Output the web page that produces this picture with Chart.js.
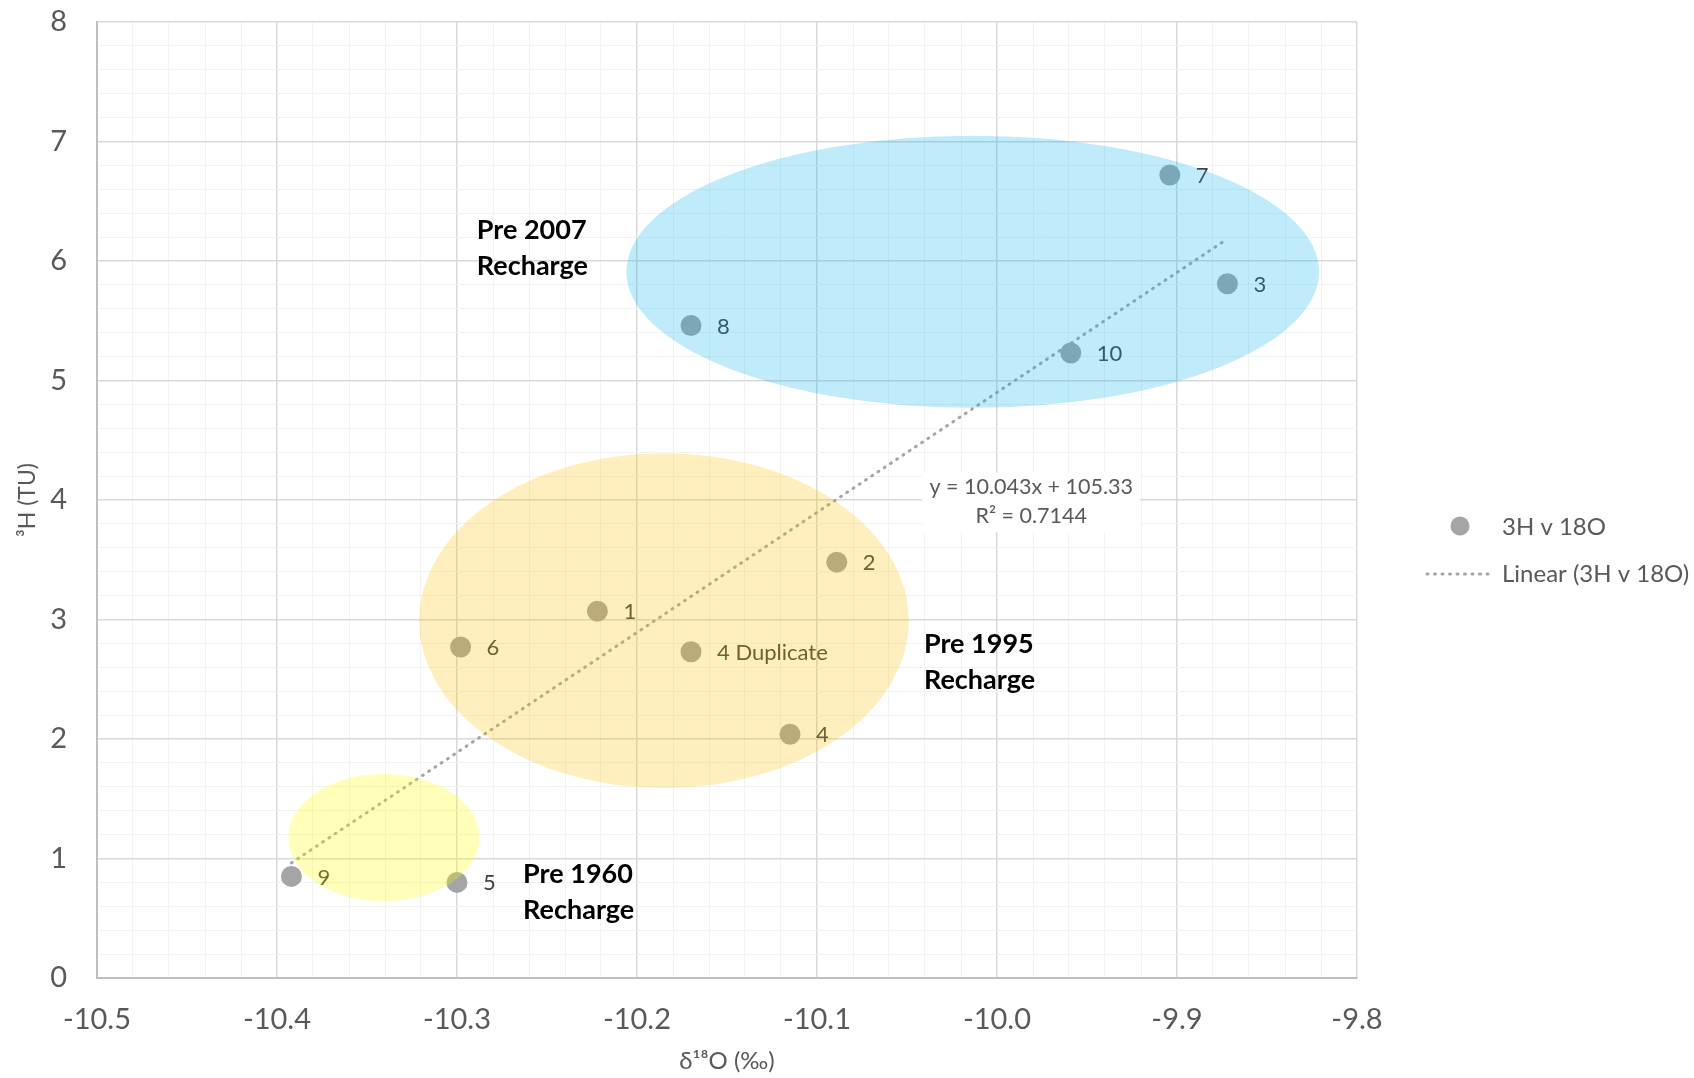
<!DOCTYPE html>
<html>
<head>
<meta charset="utf-8">
<script src="https://cdn.jsdelivr.net/npm/chart.js@4.4.1/dist/chart.umd.min.js"></script>
<style>
  html, body { margin: 0; padding: 0; background: #fff; }
  #wrap { width: 1694px; height: 1078px; }
</style>
</head>
<body>
<div id="wrap"><canvas id="isoChart" width="1694" height="1078"></canvas></div>
<script>
// sample data
const sampleLabels = ["9", "5", "6", "1", "4 Duplicate", "4", "2", "8", "10", "7", "3"];
const delta18O = [-10.392, -10.300, -10.298, -10.222, -10.170, -10.115, -10.089, -10.170, -9.959, -9.904, -9.872];
const tritiumTU = [0.85, 0.80, 2.77, 3.07, 2.73, 2.04, 3.48, 5.46, 5.23, 6.72, 5.81];

const xRange = [-10.5, -9.8];
const yRange = [0, 8];

// Excel linear trendline
const trendSlope = 10.043;
const trendIntercept = 105.33;
const trendLabel = ["y = 10.043x + 105.33", "R\u00b2 = 0.7144"];

const zoneNames = [["Pre 2007", "Recharge"], ["Pre 1995", "Recharge"], ["Pre 1960", "Recharge"]];

const FONT = "Lato, 'Open Sans', sans-serif";

// recharge zones, in data units
const zones = [
  { cx: -10.0135, cy: 5.91, rx: 0.1924, ry: 1.139, color: "rgba(0,176,240,0.25)", text: { x: -10.289, y: 6.26 } },
  { cx: -10.185, cy: 2.99, rx: 0.136, ry: 1.401, color: "rgba(255,192,0,0.25)", text: { x: -10.0406, y: 2.795 } },
  { cx: -10.3406, cy: 1.175, rx: 0.0531, ry: 0.533, color: "rgba(255,255,0,0.27)", text: { x: -10.2633, y: 0.87 } }
];

const xMin = Math.min(...delta18O);
const xMax = Math.max(...delta18O);
const trendPoints = [xMin, xMax].map(x => ({ x: x, y: trendSlope * x + trendIntercept }));

const isMajor = (v, per) => Math.abs(Math.round(v * per) - v * per) < 1e-6;

const overlayPlugin = {
  id: "overlay",
  afterDatasetsDraw(chart) {
    const ctx = chart.ctx;
    const xs = chart.scales.x, ys = chart.scales.y;
    const meta = chart.getDatasetMeta(0);
    ctx.save();

    // point labels
    ctx.font = "22px " + FONT;
    ctx.fillStyle = "#404040";
    ctx.textAlign = "left";
    ctx.textBaseline = "middle";
    meta.data.forEach((pt, i) => {
      ctx.fillText(sampleLabels[i], pt.x + 26, pt.y + 1);
    });

    // zone ellipses sit on top, semi transparent
    zones.forEach(z => {
      const cx = xs.getPixelForValue(z.cx), cy = ys.getPixelForValue(z.cy);
      const rx = Math.abs(xs.getPixelForValue(z.cx + z.rx) - cx);
      const ry = Math.abs(ys.getPixelForValue(z.cy + z.ry) - cy);
      ctx.beginPath();
      ctx.ellipse(cx, cy, rx, ry, 0, 0, Math.PI * 2);
      ctx.fillStyle = z.color;
      ctx.fill();
    });

    // zone captions
    ctx.font = "bold 27px " + FONT;
    ctx.fillStyle = "#000";
    zones.forEach((z, i) => {
      const tx = xs.getPixelForValue(z.text.x), ty = ys.getPixelForValue(z.text.y);
      zoneNames[i].forEach((line, j) => ctx.fillText(line, tx, ty + j * 36));
    });

    // trendline equation box
    const bx = xs.getPixelForValue(-9.981), by = ys.getPixelForValue(3.98);
    ctx.fillStyle = "#fff";
    ctx.fillRect(bx - 109, by - 30, 218, 60);
    ctx.font = "21.5px " + FONT;
    ctx.fillStyle = "#595959";
    ctx.textAlign = "center";
    ctx.fillText(trendLabel[0], bx, by - 15);
    ctx.fillText(trendLabel[1], bx, by + 14);
    ctx.restore();
  },
  afterDraw(chart) {
    const ctx = chart.ctx;
    ctx.save();
    ctx.fillStyle = "#a5a5a5";
    ctx.beginPath();
    ctx.arc(1460, 526, 9.5, 0, Math.PI * 2);
    ctx.fill();
    ctx.strokeStyle = "#a5a5a5";
    ctx.lineWidth = 3;
    ctx.lineCap = "round";
    ctx.setLineDash([1, 6.5]);
    ctx.beginPath();
    ctx.moveTo(1427, 574);
    ctx.lineTo(1494, 574);
    ctx.stroke();
    ctx.font = "24px " + FONT;
    ctx.fillStyle = "#595959";
    ctx.textBaseline = "middle";
    ctx.fillText("3H v 18O", 1502, 527);
    ctx.fillText("Linear (3H v 18O)", 1502, 574);
    ctx.restore();
  }
};

new Chart(document.getElementById("isoChart").getContext("2d"), {
  type: "scatter",
  data: {
    datasets: [
      {
        label: "3H v 18O",
        data: delta18O.map((x, i) => ({ x: x, y: tritiumTU[i] })),
        backgroundColor: "#a5a5a5",
        borderWidth: 0,
        pointRadius: 10.5,
        order: 2
      },
      {
        label: "Linear (3H v 18O)",
        type: "line",
        data: trendPoints,
        showLine: true,
        borderColor: "#a5a5a5",
        borderWidth: 3,
        borderDash: [1, 6.5],
        borderCapStyle: "round",
        pointRadius: 0,
        fill: false,
        order: 1
      }
    ]
  },
  options: {
    responsive: false,
    animation: false,
    layout: { padding: { top: 22, right: 337, left: 0, bottom: 0 } },
    plugins: {
      legend: { display: false },
      tooltip: { enabled: false }
    },
    scales: {
      x: {
        type: "linear",
        min: xRange[0],
        max: xRange[1],
        afterFit: (scale) => { scale.height = 100; },
        ticks: {
          stepSize: 0.02,
          autoSkip: false,
          maxRotation: 0,
          padding: 0,
          color: "#595959",
          font: { family: FONT, size: 29 },
          callback: (v) => isMajor(v, 10) ? v.toFixed(1) : ""
        },
        grid: {
          drawTicks: true,
          tickLength: 24,
          tickColor: "rgba(0,0,0,0)",
          color: (c) => isMajor(c.tick.value, 10) ? "#d9d9d9" : "#f2f2f2",
          lineWidth: (c) => isMajor(c.tick.value, 10) ? 1.5 : 1
        },
        border: { color: "#bfbfbf", width: 2 },
        title: {
          display: true,
          text: "\u03b4\u00b9\u2078O (\u2030)",
          color: "#595959",
          font: { family: FONT, size: 24 },
          padding: { top: 0, bottom: 2 }
        }
      },
      y: {
        min: yRange[0],
        max: yRange[1],
        afterFit: (scale) => { scale.width = 97; },
        ticks: {
          stepSize: 0.2,
          autoSkip: false,
          padding: 0,
          color: "#595959",
          font: { family: FONT, size: 29 },
          callback: (v) => isMajor(v, 1) ? Math.round(v).toString() : ""
        },
        grid: {
          drawTicks: true,
          tickLength: 30,
          tickColor: "rgba(0,0,0,0)",
          color: (c) => isMajor(c.tick.value, 1) ? "#d9d9d9" : "#f2f2f2",
          lineWidth: (c) => isMajor(c.tick.value, 1) ? 1.5 : 1
        },
        border: { color: "#bfbfbf", width: 2 },
        title: {
          display: true,
          text: "\u00b3H (TU)",
          color: "#595959",
          font: { family: FONT, size: 23 },
          padding: { top: 14, bottom: 0 }
        }
      }
    }
  },
  plugins: [overlayPlugin]
});
</script>
</body>
</html>
